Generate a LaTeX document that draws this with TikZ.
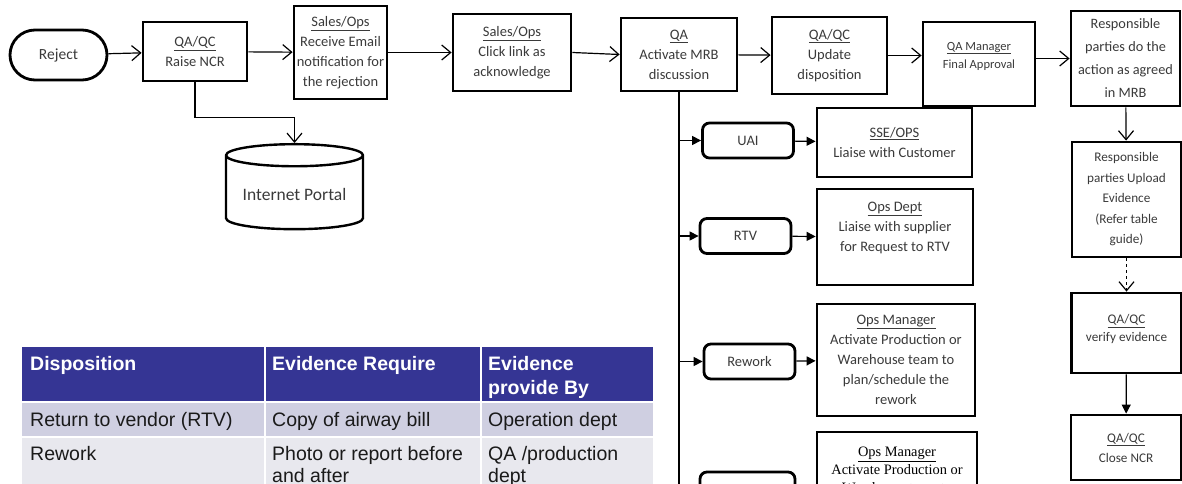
\documentclass[tikz,border=0pt]{standalone}
\usepackage{fontspec}
\setmainfont{Carlito}
\newfontfamily\tablefont{Liberation Sans}
\newfontfamily\timesfont{Liberation Serif}
\usetikzlibrary{shapes.geometric, arrows.meta, positioning}
\definecolor{InkGray}{HTML}{3A3A3A}
\definecolor{HeadBlue}{HTML}{353594}
\definecolor{RowLilac}{HTML}{CFCFE1}
\definecolor{RowPale}{HTML}{E8E8EE}
\definecolor{TableInk}{HTML}{1A1A1A}
\newcommand{\rolehead}[1]{\underline{#1}}
\tikzset{
  stepbox/.style={rectangle, draw=black, line width=2.8pt, align=center,
                  text=InkGray, font=\fontsize{14.5}{20}\selectfont, inner sep=2pt},
  choicebox/.style={stepbox, rounded corners=7pt, minimum width=91pt, minimum height=35pt},
  flow/.style={-{Straight Barb[length=9pt,width=15pt]}, line width=1.2pt},
  branch/.style={-{Triangle[length=9pt,width=9pt]}, line width=1.2pt},
  headtext/.style={font=\tablefont\bfseries\fontsize{19.5}{24}\selectfont, text=white,
                   align=left, anchor=north west, inner sep=0pt},
  celltext/.style={font=\tablefont\fontsize{19.5}{22}\selectfont, text=TableInk,
                   align=left, anchor=north west, inner sep=0pt}
}
\begin{document}
\begin{tikzpicture}[x=1pt, y=-1pt]
    \useasboundingbox (0,0) rectangle (1182,484);
    \clip (0,0) rectangle (1182,484);

    % Top row of the flow
    \node[stepbox, rounded corners=25pt, minimum width=97pt, minimum height=50pt,
          font=\fontsize{15.5}{20}\selectfont] (reject) at (58.5,55) {Reject};
    \node[stepbox, minimum width=104pt, minimum height=59pt] (raise) at (195,51.5)
        {\rolehead{QA/QC}\\Raise NCR};
    \node[stepbox, minimum width=93pt, minimum height=93pt] (email) at (340.5,52.5)
        {\rolehead{Sales/Ops}\\Receive Email\\notification for\\the rejection};
    \node[stepbox, minimum width=118pt, minimum height=77pt] (click) at (512,52.5)
        {\rolehead{Sales/Ops}\\Click link as\\acknowledge};
    \node[stepbox, minimum width=116pt, minimum height=73pt] (qa) at (679,54.5)
        {\rolehead{QA}\\Activate MRB\\discussion};
    \node[stepbox, minimum width=115pt, minimum height=77pt] (update) at (829.5,55.5)
        {\rolehead{QA/QC}\\Update\\disposition};
    \node[stepbox, minimum width=112pt, minimum height=84pt,
          font=\fontsize{12.5}{18}\selectfont] (approve) at (979,64)
        {\rolehead{QA Manager}\\Final Approval\\ \mbox{}};
    \node[stepbox, minimum width=109pt, minimum height=95pt,
          font=\fontsize{14.3}{23}\selectfont] (doaction) at (1125.5,58.5)
        {Responsible\\parties do the\\action as agreed\\in MRB};

    % Right column
    \node[stepbox, minimum width=109pt, minimum height=115pt,
          font=\fontsize{13.2}{20.5}\selectfont] (upload) at (1126.5,199.5)
        {Responsible\\parties Upload\\Evidence\\(Refer table\\guide)};
    \node[stepbox, minimum width=110pt, minimum height=80pt,
          font=\fontsize{13.2}{18}\selectfont] (verify) at (1126.5,333)
        {\rolehead{QA/QC}\\verify evidence\\[-8pt]\mbox{}};
    \node[stepbox, minimum width=110pt, minimum height=65pt,
          font=\fontsize{13.2}{20}\selectfont] (close) at (1126,447.5)
        {\rolehead{QA/QC}\\Close NCR};

    % Portal store
    \node[cylinder, shape border rotate=90, draw=black, line width=2.4pt, aspect=0.2,
          minimum width=137pt, minimum height=85pt, text=InkGray,
          font=\fontsize{17.5}{20}\selectfont] (portal) at (294.5,194.5) {Internet Portal};

    % Disposition choices
    \node[choicebox] (uai) at (748,140.5) {UAI};
    \node[stepbox, minimum width=155pt, minimum height=69pt] (sse) at (894.5,142.5)
        {\rolehead{SSE/OPS}\\Liaise with Customer};
    \node[choicebox] (rtv) at (745.5,236) {RTV};
    \node[stepbox, minimum width=156pt, minimum height=96pt] (opsdept) at (895,237)
        {\rolehead{Ops Dept}\\Liaise with supplier\\for Request to RTV\\ \mbox{}};
    \node[choicebox] (rework) at (749.5,361.5) {Rework};
    \node[stepbox, minimum width=158pt, minimum height=112pt] (opsrework) at (896,360)
        {\rolehead{Ops Manager}\\Activate Production or\\Warehouse team to\\plan/schedule the\\rework};
    \node[choicebox, minimum width=95pt, minimum height=36pt] (choice4) at (747.5,490) {};
    \node[stepbox, minimum width=160pt, minimum height=112pt,
          font=\timesfont\fontsize{14.4}{18}\selectfont, text=black] (opsother) at (897,488)
        {\rolehead{Ops Manager}\\Activate Production or\\Warehouse team to\\plan/schedule the\\rework};

    % Main flow arrows
    \draw[flow] (reject) -- (raise);
    \draw[flow] (raise) -- (email);
    \draw[flow] (email) -- (click);
    \draw[flow] (click.east) -- (qa.west);
    \draw[flow] (qa) -- (update);
    \draw[flow] (update.east) -- (update.east -| approve.west);
    \draw[flow] (approve.east |- doaction.west) -- (doaction.west);
    \draw[flow] (doaction) -- (upload);
    \draw[flow, dashed] (upload) -- (verify);
    \draw[branch] (verify) -- (close);
    \draw[flow] (raise.south) -- ++(0,35) -| (portal.north);

    % MRB branches
    \coordinate (busend) at (679,500);
    \draw[line width=1.2pt] (qa.south) -- (busend);
    \draw[branch] (qa.south |- uai.west) -- (uai.west);
    \draw[branch] (uai) -- (sse);
    \draw[branch] (qa.south |- rtv.west) -- (rtv.west);
    \draw[branch] (rtv) -- (opsdept);
    \draw[branch] (qa.south |- rework.west) -- (rework.west);
    \draw[branch] (rework) -- (opsrework);
    \draw[branch] (qa.south |- choice4.west) -- (choice4.west);
    \draw[branch] (choice4) -- (opsother);

    % Evidence table
    \foreach \xa/\xb in {22/264, 266/480, 482/653} {
        \fill[HeadBlue] (\xa,347) rectangle (\xb,401);
        \fill[RowLilac] (\xa,403) rectangle (\xb,436);
        \fill[RowPale] (\xa,438) rectangle (\xb,520);
    }
    \node[headtext] (hdisp) at (30,356) {Disposition};
    \node[headtext] (hreq) at (272,356) {Evidence Require};
    \node[headtext] (hby) at (488,356) {Evidence\\provide By};
    \node[celltext] (rtvdisp) at (30,412.5) {Return to vendor (RTV)};
    \node[celltext] (rtvreq) at (272,412.5) {Copy of airway bill};
    \node[celltext] (rtvby) at (488,412.5) {Operation dept};
    \node[celltext] (rwdisp) at (30,446) {Rework};
    \node[celltext] (rwreq) at (272,446) {Photo or report before\\and after};
    \node[celltext] (rwby) at (488,446) {QA /production\\dept};
\end{tikzpicture}
\end{document}
